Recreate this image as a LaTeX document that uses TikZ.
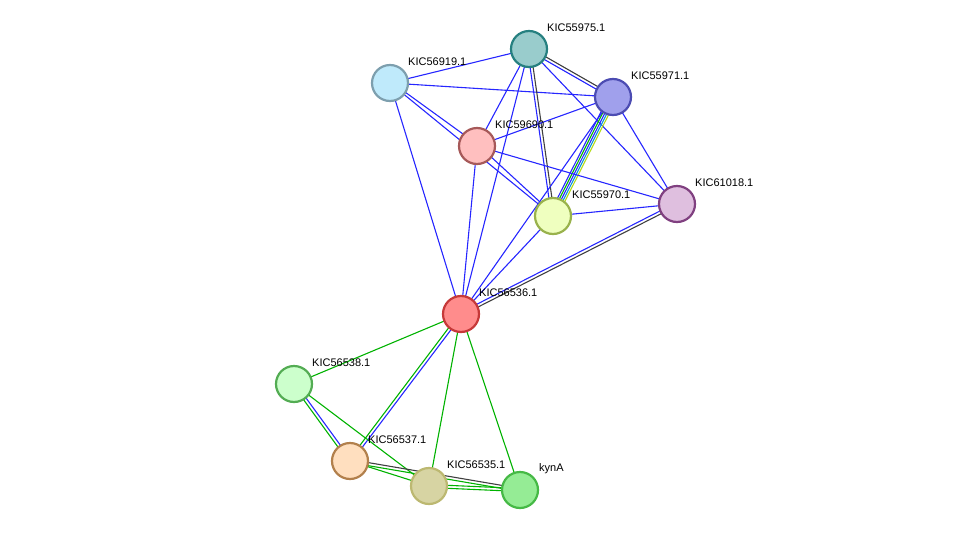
\documentclass[tikz,border=0pt]{standalone}
\usepackage{fontspec}
\setmainfont{Liberation Sans}
\usetikzlibrary{calc}
\begin{document}
\begin{tikzpicture}[x=1pt,y=-1pt,
  prot/.style={circle,minimum size=36pt,inner sep=0pt,line width=2.2pt},
  lab/.style={anchor=west,inner sep=0pt,font=\fontsize{11}{13}\selectfont},
  e/.style={line width=1.1pt}]
\useasboundingbox (0,0) rectangle (975,536);
\newcommand{\ed}[4]{\draw[e,#4] ($(#1)!#3!90:(#2)$) -- ($(#2)!#3!-90:(#1)$);}
\coordinate (A) at (529,49);
\coordinate (B) at (390,83);
\coordinate (C) at (613,97);
\coordinate (D) at (477,146);
\coordinate (E) at (677,204);
\coordinate (F) at (553,216);
\coordinate (G) at (461,314);
\coordinate (H) at (294,384);
\coordinate (I) at (350,461);
\coordinate (J) at (429,486);
\coordinate (K) at (520,490);
\colorlet{eb}{blue!85!white}
\colorlet{eg}{green!70!black}
\colorlet{ek}{black!75}
% edges
\ed{B}{A}{0pt}{eb}
\ed{B}{C}{0pt}{eb}
\ed{B}{D}{1.5pt}{eb}
\ed{B}{F}{0pt}{eb}
\ed{D}{F}{1.5pt}{eb}
\ed{B}{G}{0pt}{eb}
\ed{A}{C}{1.5pt}{ek}\ed{A}{C}{-1.5pt}{eb}
\ed{A}{D}{0pt}{eb}
\ed{A}{F}{1.5pt}{ek}\ed{A}{F}{-1.5pt}{eb}
\ed{A}{E}{0pt}{eb}
\ed{A}{G}{0pt}{eb}
\ed{D}{G}{0pt}{eb}
\ed{C}{D}{0pt}{eb}
\ed{C}{F}{-4pt}{eb}\ed{C}{F}{-2pt}{eg}\ed{C}{F}{0pt}{eb}\ed{C}{F}{2pt}{cyan!80!blue}\ed{C}{F}{4pt}{yellow!70!green}
\ed{C}{E}{0pt}{eb}
\ed{C}{G}{0pt}{eb}
\ed{D}{E}{0pt}{eb}
\ed{F}{E}{0pt}{eb}
\ed{F}{G}{0pt}{eb}
\ed{E}{G}{1.5pt}{ek}\ed{E}{G}{-1.5pt}{eb}
\ed{G}{H}{0pt}{eg}
\ed{G}{I}{1.5pt}{eb}\ed{G}{I}{-1.5pt}{eg}
\ed{G}{J}{0pt}{eg}
\ed{G}{K}{0pt}{eg}
\ed{H}{I}{1.5pt}{eb}\ed{H}{I}{-1.5pt}{eg}
\ed{H}{J}{0pt}{eg}
\ed{I}{J}{0pt}{eg}
\ed{I}{K}{1.5pt}{ek}\ed{I}{K}{-1.5pt}{eg}
\ed{J}{K}{1.5pt}{eg}\ed{J}{K}{-1.5pt}{eg}
% nodes
\node[prot,fill=teal!40!white,draw=teal!70!gray] (n1) at (A) {};
\node[prot,fill=cyan!25!white,draw=cyan!30!gray] (n2) at (B) {};
\node[prot,fill=blue!35!white!85!gray,draw=blue!40!gray] (n3) at (C) {};
\node[prot,fill=red!25!white,draw=red!30!gray] (n4) at (D) {};
\node[prot,fill=violet!25!white,draw=violet!50!gray] (n5) at (E) {};
\node[prot,fill=lime!25!white,draw=lime!40!gray] (n6) at (F) {};
\node[prot,fill=red!45!white,draw=red!55!gray] (n7) at (G) {};
\node[prot,fill=green!20!white,draw=green!35!gray] (n8) at (H) {};
\node[prot,fill=orange!25!white,draw=orange!40!gray] (n9) at (I) {};
\node[prot,fill=yellow!40!gray!60!white,draw=yellow!40!gray] (n10) at (J) {};
\node[prot,fill=green!40!white!85!gray,draw=green!45!gray] (n11) at (K) {};
% labels
\node[lab] (l1) at (547,28) {KIC55975.1};
\node[lab] (l2) at (408,62) {KIC56919.1};
\node[lab] (l3) at (631,76) {KIC55971.1};
\node[lab] (l4) at (495,125) {KIC59690.1};
\node[lab] (l5) at (695,183) {KIC61018.1};
\node[lab] (l6) at (572,195) {KIC55970.1};
\node[lab] (l7) at (479,293) {KIC56536.1};
\node[lab] (l8) at (312,363) {KIC56538.1};
\node[lab] (l9) at (368,440) {KIC56537.1};
\node[lab] (l10) at (447,465) {KIC56535.1};
\node[lab] (l11) at (539,469) {kynA};
\end{tikzpicture}
\end{document}
